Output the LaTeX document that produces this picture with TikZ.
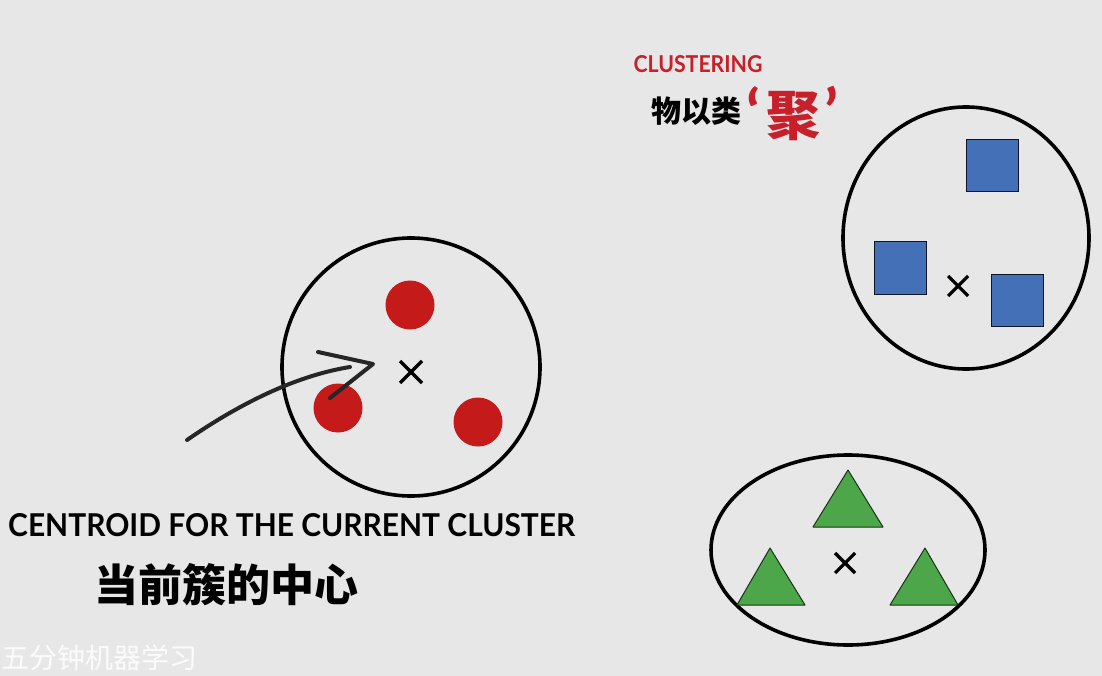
\documentclass[tikz,border=0pt]{standalone}
\usepackage{fontspec}
\setmainfont{Lato}
\newfontfamily\cjk{Noto Sans CJK SC}
\usetikzlibrary{shapes.geometric,calc}
\definecolor{bg}{RGB}{231,231,231}
\definecolor{dotred}{RGB}{196,26,26}
\definecolor{titlered}{RGB}{200,32,42}
\definecolor{sqblue}{RGB}{68,112,184}
\definecolor{trigreen}{RGB}{78,166,74}
\tikzset{
  ring/.style={draw=black,line width=3.6pt},
  dot/.style={circle,fill=dotred,minimum size=49pt,inner sep=0pt},
  sq/.style={rectangle,fill=sqblue,draw=black!80!sqblue,line width=1pt,minimum size=52pt,inner sep=0pt},
  tri/.style={fill=trigreen,draw=black!70!trigreen,line width=1pt,line join=round},
  crossmark/.style={line width=3.2pt},
  hand/.style={line width=4pt,line cap=round,line join=round,draw=black!85},
  quotemark/.style={inner sep=0pt,text=titlered,font=\bfseries\fontsize{64pt}{64pt}\selectfont}
}
\newcommand{\xmark}[2]{\draw[crossmark] ($(#1)+(-#2,-#2)$) -- ($(#1)+(#2,#2)$) ($(#1)+(-#2,#2)$) -- ($(#1)+(#2,-#2)$);}
\begin{document}
\begin{tikzpicture}[x=1pt,y=-1pt]
\fill[bg] (0,0) rectangle (1102,676);
\useasboundingbox (0,0) rectangle (1102,676);

% title
\node[text=titlered,inner sep=0pt] (title) at (698,64) {\resizebox{129pt}{17pt}{\bfseries CLUSTERING}};
\node[inner sep=0pt,anchor=west] (wyl) at (651,111) {\cjk\bfseries\fontsize{30pt}{30pt}\selectfont 物以类};
\node[inner sep=0pt,text=titlered] (ju) at (793,116) {\cjk\bfseries\fontsize{54pt}{54pt}\selectfont 聚};
\node[quotemark,anchor=north] (lq) at (754,86) {‘};
\node[quotemark,anchor=north] (rq) at (832,86) {’};

% red cluster
\node[ring,circle,minimum size=258pt,inner sep=0pt] (c1) at (411,367) {};
\node[dot] (d1) at (410,305) {};
\node[dot] (d2) at (338,408) {};
\node[dot] (d3) at (478,422) {};
\coordinate (x1) at (411,372);
\xmark{x1}{11}

% arrow
\coordinate (as) at (187,440);
\coordinate (ae) at (350,367);
\coordinate (tip) at (373,364);
\coordinate (barbA) at (318,352);
\coordinate (barbB) at (330,398);
\draw[hand] (as) .. controls (245,400) and (300,375) .. (ae);
\draw[hand] (barbA) -- (tip) -- (barbB);

% blue cluster
\node[ring,ellipse,minimum width=246pt,minimum height=262pt,inner sep=0pt] (c2) at (966,238) {};
\node[sq] (s1) at (992,166) {};
\node[sq] (s2) at (900,268) {};
\node[sq] (s3) at (1017,300) {};
\coordinate (x2) at (958,286);
\xmark{x2}{10}

% green cluster
\node[ring,ellipse,minimum width=274pt,minimum height=190pt,inner sep=0pt] (c3) at (848,550) {};
\draw[tri] (848,470) -- (883,527) -- (813,527) -- cycle;
\draw[tri] (770,548) -- (805,605) -- (737,605) -- cycle;
\draw[tri] (925,548) -- (958,605) -- (890,605) -- cycle;
\coordinate (x3) at (845,563);
\xmark{x3}{10}

% captions
\node[inner sep=0pt,anchor=west] (cap) at (8,525) {\resizebox{567pt}{23pt}{\bfseries CENTROID FOR THE CURRENT CLUSTER}};
\node[inner sep=0pt,anchor=west] (capcn) at (94,585) {\cjk\bfseries\fontsize{44pt}{44pt}\selectfont 当前簇的中心};

% watermark
\node[inner sep=0pt,anchor=west,text=white,opacity=0.85] (wm) at (1,658) {\cjk\fontsize{28pt}{28pt}\selectfont 五分钟机器学习};
\end{tikzpicture}
\end{document}
